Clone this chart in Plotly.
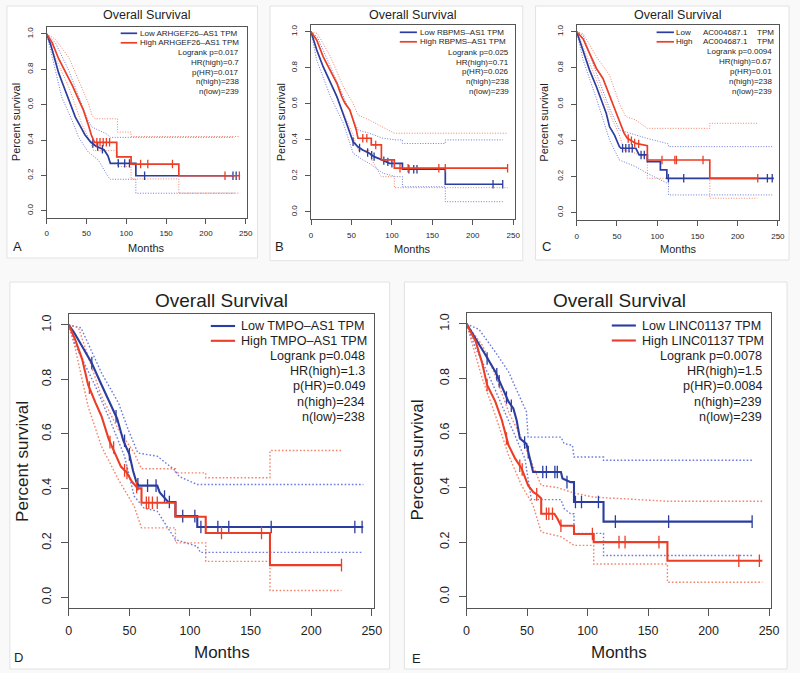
import plotly.graph_objects as go

W, H = 800, 673
FONT = "Liberation Sans, Arial, sans-serif"
BLUE = "#2b3d9f"
RED = "#ec3d25"
BLUE_CI = "rgba(70,90,210,0.8)"
RED_CI = "rgba(240,100,70,0.8)"
TXT = "#1e1e1e"
AXC = "#555555"

# ---------------- data ----------------
x_ticks = [0, 50, 100, 150, 200, 250]
y_ticks = [0.0, 0.2, 0.4, 0.6, 0.8, 1.0]
y_tick_labels = ["0.0", "0.2", "0.4", "0.6", "0.8", "1.0"]

# Panel A : ARHGEF26-AS1
a_low_t = [0, 5, 10, 15, 20, 28, 36, 42, 48, 55, 62, 72, 77, 80, 112, 112, 236]
a_low_s = [1.0, 0.94, 0.86, 0.78, 0.72, 0.63, 0.53, 0.48, 0.43, 0.39, 0.365, 0.345, 0.31, 0.268, 0.268, 0.198, 0.198]
a_high_t = [0, 7, 15, 23, 32, 40, 46, 52, 56, 60, 88, 88, 106, 106, 166, 166, 243]
a_high_s = [1.0, 0.95, 0.86, 0.79, 0.71, 0.63, 0.57, 0.49, 0.43, 0.387, 0.387, 0.305, 0.305, 0.264, 0.264, 0.198, 0.198]
a_low_cens_t = [58, 64, 70, 90, 98, 104, 123, 234, 238]
a_low_cens_s = [0.38, 0.363, 0.348, 0.268, 0.268, 0.268, 0.198, 0.198, 0.198]
a_high_cens_t = [63, 67, 71, 75, 79, 118, 127, 158, 224, 242]
a_high_cens_s = [0.387, 0.387, 0.387, 0.387, 0.387, 0.264, 0.264, 0.264, 0.198, 0.198]
a_low_up_t = [0, 11, 28, 44, 52, 57, 65, 75, 80, 236]
a_low_up_s = [1.0, 0.95, 0.79, 0.60, 0.51, 0.473, 0.454, 0.435, 0.415, 0.415]
a_low_lo_t = [0, 7, 19, 32, 40, 52, 65, 77, 80, 112, 112, 236]
a_low_lo_s = [1.0, 0.865, 0.641, 0.51, 0.417, 0.333, 0.286, 0.193, 0.178, 0.178, 0.099, 0.099]
a_high_up_t = [0, 11, 28, 44, 52, 57, 61, 89, 89, 106, 106, 243]
a_high_up_s = [1.0, 0.97, 0.865, 0.697, 0.613, 0.538, 0.52, 0.52, 0.445, 0.445, 0.42, 0.42]
a_high_lo_t = [0, 11, 28, 44, 52, 59, 89, 89, 106, 106, 166, 166, 243]
a_high_lo_s = [1.0, 0.865, 0.697, 0.492, 0.417, 0.34, 0.34, 0.25, 0.25, 0.18, 0.18, 0.10, 0.10]

# Panel B : RBPMS-AS1
b_low_t = [0, 7, 15, 24, 32, 38, 44, 48, 52, 58, 64, 72, 78, 88, 97, 113, 113, 166, 166, 237]
b_low_s = [1.0, 0.90, 0.806, 0.723, 0.64, 0.566, 0.492, 0.437, 0.39, 0.362, 0.344, 0.326, 0.307, 0.289, 0.27, 0.27, 0.237, 0.237, 0.154, 0.154]
b_high_t = [0, 7, 15, 24, 32, 38, 42, 48, 52, 56, 58, 74.5, 74.5, 87, 87, 103, 103, 243]
b_high_s = [1.0, 0.954, 0.862, 0.788, 0.714, 0.64, 0.603, 0.566, 0.51, 0.455, 0.409, 0.409, 0.372, 0.372, 0.289, 0.289, 0.243, 0.243]
b_low_cens_t = [52, 60, 70, 75, 78, 90, 95, 100, 121, 127, 131, 225, 237]
b_low_cens_s = [0.39, 0.355, 0.33, 0.315, 0.307, 0.285, 0.278, 0.27, 0.237, 0.237, 0.237, 0.154, 0.154]
b_high_cens_t = [64, 69, 80, 110, 120, 158, 166, 243]
b_high_cens_s = [0.409, 0.409, 0.372, 0.243, 0.243, 0.243, 0.243, 0.243]
b_low_up_t = [0, 8, 24, 40, 52, 58, 72, 89, 105, 113, 113, 166, 166, 237]
b_low_up_s = [1.0, 0.97, 0.806, 0.64, 0.51, 0.455, 0.437, 0.409, 0.40, 0.40, 0.38, 0.38, 0.40, 0.40]
b_low_lo_t = [0, 7, 24, 40, 52, 64, 72, 89, 105, 113, 113, 166, 166, 237]
b_low_lo_s = [1.0, 0.843, 0.64, 0.492, 0.326, 0.289, 0.27, 0.215, 0.196, 0.196, 0.14, 0.14, 0.057, 0.057]
b_high_up_t = [0, 8, 24, 40, 52, 58, 72, 87, 103, 243]
b_high_up_s = [1.0, 0.99, 0.862, 0.695, 0.603, 0.538, 0.51, 0.473, 0.437, 0.437]
b_high_lo_t = [0, 7, 24, 40, 52, 58, 72, 75, 87, 103, 103, 243]
b_high_lo_s = [1.0, 0.898, 0.714, 0.547, 0.427, 0.344, 0.34, 0.29, 0.196, 0.196, 0.135, 0.135]

# Panel C : AC004687.1
c_low_t = [0, 8, 16, 24.5, 32.6, 36.7, 40.8, 47, 53, 55, 73.5, 77.6, 87.8, 87.8, 104, 104, 112, 112, 245]
c_low_s = [1.0, 0.90, 0.788, 0.696, 0.604, 0.549, 0.475, 0.429, 0.365, 0.356, 0.356, 0.319, 0.319, 0.282, 0.282, 0.236, 0.236, 0.19, 0.19]
c_high_t = [0, 8, 16, 24.5, 32.6, 40.8, 47, 53, 59, 63, 73.5, 87.8, 87.8, 165.4, 165.4, 224.6]
c_high_s = [1.0, 0.96, 0.88, 0.797, 0.742, 0.65, 0.576, 0.512, 0.438, 0.411, 0.383, 0.37, 0.291, 0.291, 0.19, 0.19]
c_low_cens_t = [57, 61, 65, 69, 80, 84, 114, 133, 237, 243]
c_low_cens_s = [0.356, 0.356, 0.356, 0.356, 0.319, 0.319, 0.19, 0.19, 0.19, 0.19]
c_high_cens_t = [64, 68, 72, 77, 106, 122, 124, 157, 225]
c_high_cens_s = [0.41, 0.398, 0.385, 0.38, 0.291, 0.291, 0.291, 0.291, 0.19]
c_low_up_t = [0, 8, 24.5, 40.8, 53, 73.5, 87.8, 104, 114, 114, 243]
c_low_up_s = [1.0, 0.98, 0.77, 0.576, 0.457, 0.429, 0.41, 0.392, 0.38, 0.365, 0.365]
c_low_lo_t = [0, 8, 24.5, 40.8, 53, 73.5, 87.8, 104, 114, 114, 243]
c_low_lo_s = [1.0, 0.843, 0.631, 0.402, 0.291, 0.254, 0.217, 0.18, 0.16, 0.098, 0.098]
c_high_up_t = [0, 8, 24.5, 40.8, 53, 61, 73.5, 87.8, 165.4, 165.4, 224.6]
c_high_up_s = [1.0, 0.99, 0.862, 0.76, 0.604, 0.531, 0.512, 0.466, 0.466, 0.494, 0.494]
c_high_lo_t = [0, 8, 24.5, 40.8, 53, 59, 73.5, 87.8, 87.8, 165.4, 165.4, 224.6]
c_high_lo_s = [1.0, 0.917, 0.733, 0.549, 0.429, 0.346, 0.328, 0.30, 0.19, 0.19, 0.08, 0.08]

# Panel D : TMPO-AS1
d_low_t = [0, 4, 8, 14, 19, 25, 30, 35, 40, 45, 50, 53, 56, 58, 73, 75, 78, 82, 88, 88, 106, 106, 243]
d_low_s = [1.0, 0.975, 0.945, 0.90, 0.86, 0.80, 0.75, 0.70, 0.655, 0.575, 0.525, 0.465, 0.42, 0.41, 0.41, 0.385, 0.37, 0.35, 0.35, 0.298, 0.298, 0.258, 0.258]
d_high_t = [0, 5, 11, 16, 22, 27, 33, 38, 43, 48, 52, 57, 60, 60, 88, 88, 113, 113, 166, 166, 225]
d_high_s = [1.0, 0.95, 0.875, 0.78, 0.715, 0.665, 0.58, 0.53, 0.48, 0.457, 0.425, 0.40, 0.40, 0.347, 0.347, 0.296, 0.296, 0.236, 0.236, 0.118, 0.118]
d_low_cens_t = [19, 39, 46, 50, 57, 65, 72, 79, 83, 94, 104, 109, 123, 132, 167, 236, 242]
d_low_cens_s = [0.86, 0.665, 0.575, 0.525, 0.415, 0.41, 0.41, 0.37, 0.35, 0.298, 0.298, 0.258, 0.258, 0.258, 0.258, 0.258, 0.258]
d_high_cens_t = [17, 34, 37, 46, 48, 56, 64, 66, 69, 73, 126, 159, 225]
d_high_cens_s = [0.77, 0.57, 0.55, 0.466, 0.457, 0.405, 0.347, 0.347, 0.347, 0.347, 0.236, 0.236, 0.118]
d_low_up_t = [0, 10, 27, 41, 49, 57, 73, 87, 91, 106, 243]
d_low_up_s = [1.0, 0.99, 0.824, 0.714, 0.616, 0.53, 0.518, 0.469, 0.444, 0.414, 0.414]
d_low_lo_t = [0, 5, 22, 35, 46, 54, 62, 73, 81, 88, 106, 108.5, 243]
d_low_lo_s = [1.0, 0.93, 0.775, 0.64, 0.518, 0.371, 0.328, 0.316, 0.26, 0.212, 0.187, 0.165, 0.165]
d_high_up_t = [0, 8, 27, 41, 54, 60, 88, 88, 113, 113, 166, 166, 225]
d_high_up_s = [1.0, 0.99, 0.738, 0.616, 0.53, 0.472, 0.472, 0.457, 0.457, 0.439, 0.439, 0.539, 0.539]
d_high_lo_t = [0, 5, 16, 27, 41, 54, 60, 88, 88, 113, 113, 166, 166, 225]
d_high_lo_s = [1.0, 0.92, 0.70, 0.554, 0.432, 0.334, 0.255, 0.255, 0.20, 0.20, 0.132, 0.132, 0.025, 0.025]

# Panel E : LINC01137
e_low_t = [0, 7.6, 15.7, 23.8, 29.2, 34.7, 38.7, 41.4, 44.1, 49.5, 52.3, 55, 78, 79.3, 86, 88.8, 88.8, 113.2, 113.2, 236]
e_low_s = [1.0, 0.947, 0.886, 0.825, 0.77, 0.715, 0.69, 0.647, 0.58, 0.56, 0.507, 0.457, 0.457, 0.433, 0.42, 0.42, 0.347, 0.347, 0.275, 0.275]
e_high_t = [0, 7.6, 13, 17, 23.8, 29.2, 34.7, 40.1, 45.5, 50.9, 55, 59, 61.7, 61.7, 72.6, 75.3, 78, 88.8, 88.8, 105.1, 105.1, 166, 166, 244.5]
e_high_s = [1.0, 0.935, 0.855, 0.776, 0.715, 0.647, 0.555, 0.507, 0.47, 0.408, 0.384, 0.372, 0.36, 0.304, 0.304, 0.285, 0.26, 0.26, 0.23, 0.23, 0.2, 0.2, 0.132, 0.132]
e_low_cens_t = [17, 25, 27, 33, 37, 48, 51, 63, 66, 73, 75, 83, 90, 95, 109, 123, 167, 236]
e_low_cens_s = [0.873, 0.815, 0.79, 0.73, 0.7, 0.565, 0.53, 0.457, 0.457, 0.457, 0.457, 0.42, 0.347, 0.347, 0.347, 0.275, 0.275, 0.275]
e_high_cens_t = [17, 33, 44, 46, 58, 66, 68, 71, 78, 104, 126, 131, 159, 225, 242]
e_high_cens_s = [0.776, 0.58, 0.48, 0.466, 0.375, 0.304, 0.304, 0.304, 0.26, 0.23, 0.2, 0.2, 0.2, 0.132, 0.132]
e_low_up_t = [0, 10.3, 23.8, 34.7, 40.1, 49.5, 50.9, 78, 80.7, 87.5, 88.8, 113.2, 113.2, 236]
e_low_up_s = [1.0, 0.98, 0.897, 0.825, 0.77, 0.678, 0.585, 0.585, 0.561, 0.555, 0.512, 0.512, 0.50, 0.50]
e_low_lo_t = [0, 7.6, 18.4, 29.2, 40.1, 48.2, 53.6, 78, 80.7, 86, 88.8, 88.8, 113.2, 113.2, 236]
e_low_lo_s = [1.0, 0.91, 0.812, 0.702, 0.592, 0.507, 0.356, 0.356, 0.323, 0.304, 0.304, 0.232, 0.232, 0.151, 0.151]
e_high_up_t = [0, 13, 23.8, 34.7, 45.5, 55, 61.7, 75, 88.8, 105.1, 166, 244.5]
e_high_up_s = [1.0, 0.922, 0.812, 0.678, 0.58, 0.482, 0.408, 0.40, 0.38, 0.365, 0.35, 0.35]
e_high_lo_t = [0, 13, 23.8, 34.7, 45.5, 55, 61.7, 78, 88.8, 105.1, 105.1, 166, 166, 244.5]
e_high_lo_s = [1.0, 0.80, 0.665, 0.519, 0.408, 0.335, 0.237, 0.22, 0.188, 0.188, 0.12, 0.12, 0.053, 0.053]

# legend / statistics text
a_names = ["Low ARHGEF26–AS1 TPM", "High ARHGEF26–AS1 TPM"]
b_names = ["Low RBPMS–AS1 TPM", "High RBPMS–AS1 TPM"]
d_names = ["Low TMPO–AS1 TPM", "High TMPO–AS1 TPM"]
e_names = ["Low LINC01137 TPM", "High LINC01137 TPM"]
a_stats = ["Logrank p=0.017", "HR(high)=0.7", "p(HR)=0.017", "n(high)=238", "n(low)=239"]
b_stats = ["Logrank p=0.025", "HR(high)=0.71", "p(HR)=0.026", "n(high)=238", "n(low)=239"]
c_stats = ["Logrank p=0.0094", "HR(high)=0.67", "p(HR)=0.01", "n(high)=238", "n(low)=239"]
d_stats = ["Logrank p=0.048", "HR(high)=1.3", "p(HR)=0.049", "n(high)=234", "n(low)=238"]
e_stats = ["Logrank p=0.0078", "HR(high)=1.5", "p(HR)=0.0084", "n(high)=239", "n(low)=239"]

# ---------------- layout geometry (pixels) ----------------
def fx(px):
    return px / W

def fy(py):
    return 1 - py / H

panels = [
    dict(letter="A", d="a", box=(44.3, 247.7, 26.9, 217.8), frame=(4, 6, 258, 258), small=True,
         names=a_names, stats=a_stats, leg=(119.3, 136, 138.3, 33.3, 42.8), stat=(240, [52.7, 62.4, 72.1, 81.8, 91.5]),
         title_y=15, months_y=248.3, ylab_x=14, letter_xy=(15, 246.7)),
    dict(letter="B", d="b", box=(312.3, 519.0, 24.5, 219.2), frame=(270.7, 6, 527, 260.7), small=True,
         names=b_names, stats=b_stats, leg=(402.3, 419.7, 422, 32.3, 41.8), stat=(514, [52.3, 62, 71.7, 81.4, 91.1]),
         title_y=15, months_y=249.3, ylab_x=281.3, letter_xy=(280, 246.7)),
    dict(letter="C", d="c", box=(581.7, 787.3, 24.5, 219.9), frame=(540, 6, 797, 260), small=True,
         names=None, stats=c_stats, leg=(662.7, 680.3, 681.7, 32.3, 41.8), stat=(781, [52, 61.8, 71.6, 81.4, 91.2]),
         title_y=15, months_y=249.3, ylab_x=549, letter_xy=(550.7, 246.7)),
    dict(letter="D", d="d", box=(66.7, 376.4, 314.1, 608.2), frame=(7, 282, 392, 669), small=False,
         names=d_names, stats=d_stats, leg=(210.7, 235.3, 240.7, 326, 340.8), stat=(368.3, [355.6, 371, 386.4, 401.8, 417.2]),
         title_y=300.3, months_y=652, ylab_x=19, letter_xy=(16, 657)),
    dict(letter="E", d="e", box=(470.0, 779.2, 313.0, 607.6), frame=(407, 282, 795, 669), small=False,
         names=e_names, stats=e_stats, leg=(617.3, 641.7, 646.7, 325.5, 340.5), stat=(770.7, [355.6, 371, 386.4, 401.8, 417.2]),
         title_y=300.3, months_y=652, ylab_x=420, letter_xy=(419.3, 658)),
]

data = globals()
fig = go.Figure()
shapes = []
annotations = []
layout_axes = {}

for i, p in enumerate(panels, start=1):
    k = p["d"]
    xa = "x" if i == 1 else f"x{i}"
    ya = "y" if i == 1 else f"y{i}"
    small = p["small"]
    lw = 1.7 if small else 2.1
    ciw = 1.0 if small else 1.4
    cidash = "1px,1.6px" if small else "1.6px,2px"
    msize = 6 if small else 9
    fs_tick = 8 if small else 12.5
    fs_txt = 8.0 if small else 12.6
    fs_title = 12.5 if small else 19
    fs_lab = 11 if small else 17
    ticklen = 5 if small else 7

    # confidence bands (dotted)
    for grp, col in (("low", BLUE_CI), ("high", RED_CI)):
        for side in ("up", "lo"):
            fig.add_trace(go.Scatter(
                x=data[f"{k}_{grp}_{side}_t"], y=data[f"{k}_{grp}_{side}_s"], mode="lines",
                line=dict(color=col, width=ciw, dash=cidash), xaxis=xa, yaxis=ya,
                showlegend=False, hoverinfo="skip"))
    # survival curves and censor marks
    for grp, col in (("low", BLUE), ("high", RED)):
        fig.add_trace(go.Scatter(
            x=data[f"{k}_{grp}_t"], y=data[f"{k}_{grp}_s"], mode="lines",
            line=dict(color=col, width=lw), xaxis=xa, yaxis=ya, showlegend=False))
        fig.add_trace(go.Scatter(
            x=data[f"{k}_{grp}_cens_t"], y=data[f"{k}_{grp}_cens_s"], mode="markers",
            marker=dict(symbol="line-ns", size=msize, line=dict(color=col, width=1.3)),
            xaxis=xa, yaxis=ya, showlegend=False))

    x0, x1, y0, y1 = p["box"]
    axis_common = dict(showline=True, mirror=True, linecolor=AXC, linewidth=1,
                       ticks="outside", ticklen=ticklen, tickwidth=1, tickcolor=AXC,
                       showgrid=False, zeroline=False,
                       tickfont=dict(family=FONT, size=fs_tick, color=TXT))
    layout_axes["xaxis" if i == 1 else f"xaxis{i}"] = dict(
        domain=[fx(x0), fx(x1)], range=[0, 252], tickvals=x_ticks, anchor=ya,
        ticklabelstandoff=3 if small else 4, **axis_common)
    layout_axes["yaxis" if i == 1 else f"yaxis{i}"] = dict(
        domain=[fy(y1), fy(y0)], range=[-0.04, 1.04], tickvals=y_ticks, ticktext=y_tick_labels,
        tickangle=-90, anchor=xa, ticklabelstandoff=5 if small else 5, **axis_common)

    # frame around the panel
    fx0, fy0, fx1, fy1 = p["frame"]
    shapes.append(dict(type="rect", xref="paper", yref="paper", x0=fx(fx0), x1=fx(fx1),
                       y0=fy(fy1), y1=fy(fy0), line=dict(color="#e2e2e2", width=1),
                       fillcolor="white", layer="below"))

    cx = (x0 + x1) / 2
    annotations.append(dict(text="Overall Survival", x=fx(cx), y=fy(p["title_y"]), xref="paper", yref="paper",
                            showarrow=False, xanchor="center", yanchor="middle",
                            font=dict(family=FONT, size=fs_title, color=TXT)))
    annotations.append(dict(text="Months", x=fx(cx), y=fy(p["months_y"]), xref="paper", yref="paper",
                            showarrow=False, xanchor="center", yanchor="middle",
                            font=dict(family=FONT, size=fs_lab, color=TXT)))
    annotations.append(dict(text="Percent survival", x=fx(p["ylab_x"]), y=fy((y0 + y1) / 2), xref="paper",
                            yref="paper", showarrow=False, textangle=-90, xanchor="center", yanchor="middle",
                            font=dict(family=FONT, size=fs_lab, color=TXT)))
    lx, ly = p["letter_xy"]
    annotations.append(dict(text=p["letter"], x=fx(lx), y=fy(ly), xref="paper", yref="paper",
                            showarrow=False, xanchor="center", yanchor="middle",
                            font=dict(family=FONT, size=13, color=TXT)))

    # legend lines
    la, lb, tx, yl, yh = p["leg"]
    for yy, col in ((yl, BLUE), (yh, RED)):
        shapes.append(dict(type="line", xref="paper", yref="paper", x0=fx(la), x1=fx(lb),
                           y0=fy(yy), y1=fy(yy), line=dict(color=col, width=lw)))
    if p["names"] is not None:
        for yy, name in ((yl, p["names"][0]), (yh, p["names"][1])):
            annotations.append(dict(text=name, x=fx(tx), y=fy(yy), xref="paper", yref="paper",
                                    showarrow=False, xanchor="left", yanchor="middle", borderpad=0,
                                    font=dict(family=FONT, size=fs_txt, color=TXT)))
    else:
        for yy, word in ((yl, "Low"), (yh, "High")):
            annotations.append(dict(text=word, x=fx(tx), y=fy(yy), xref="paper", yref="paper",
                                    showarrow=False, xanchor="left", yanchor="middle", borderpad=0,
                                    font=dict(family=FONT, size=fs_txt, color=TXT)))
            annotations.append(dict(text="AC004687.1", x=fx(709), y=fy(yy), xref="paper", yref="paper",
                                    showarrow=False, xanchor="left", yanchor="middle", borderpad=0,
                                    font=dict(family=FONT, size=fs_txt, color=TXT)))
            annotations.append(dict(text="TPM", x=fx(763), y=fy(yy), xref="paper", yref="paper",
                                    showarrow=False, xanchor="left", yanchor="middle", borderpad=0,
                                    font=dict(family=FONT, size=fs_txt, color=TXT)))
    sx, sys_ = p["stat"]
    for yy, s in zip(sys_, p["stats"]):
        annotations.append(dict(text=s, x=fx(sx), y=fy(yy), xref="paper", yref="paper",
                                showarrow=False, xanchor="right", yanchor="middle", borderpad=0,
                                font=dict(family=FONT, size=fs_txt, color=TXT)))

fig.update_layout(
    width=W, height=H, margin=dict(l=0, r=0, t=0, b=0),
    paper_bgcolor="#f9f9f9", plot_bgcolor="white",
    shapes=shapes, annotations=annotations, showlegend=False,
    **layout_axes)

# place the figure at the page origin (remove the browser's default body margin)
fig.write_html("out.html", config={"displayModeBar": False},
               post_script="document.body.style.margin='0';document.body.style.overflow='hidden';")
